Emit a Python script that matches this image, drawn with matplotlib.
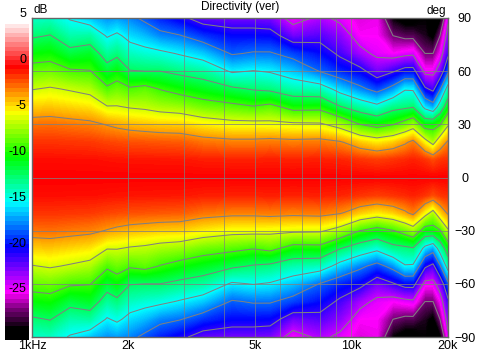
import numpy as np
import matplotlib
matplotlib.use('Agg')
import matplotlib.pyplot as plt
from matplotlib.colors import LinearSegmentedColormap, Normalize

plt.rcParams['font.family'] = ['Liberation Sans', 'DejaVu Sans']

# Frecuencias (Hz)
frecuencias = [1000, 1139, 1316, 1520, 1719, 1847, 2029, 2261, 2520, 2910, 3437, 4236, 4930,
               5574, 6579, 7995, 9237, 10670, 12060, 13540, 14770, 15650, 17060, 18080, 19010, 20140]

# Nivel en dB por angulo (mitad superior, el diagrama es simetrico)
db_90 = [-14, -13.9, -15.2, -16.2, -17.2, -17, -17.5, -18.5, -19.5, -20.5, -22, -22.3, -22.3,
         -22.5, -25, -23.5, -24.5, -25.5, -25.2, -29, -30, -30, -29, -30, -29.5, -24.5]
db_80 = [-12.3, -11.9, -13.4, -13.2, -15.2, -14.6, -15.7, -16.4, -17.4, -17.9, -19.1, -20, -20,
         -20.1, -22.3, -21.7, -22.8, -25, -25, -27, -27.5, -27.5, -28.5, -29.5, -27, -23]
db_70 = [-10.1, -9.9, -11.3, -10.8, -13.1, -12.5, -13.8, -14.2, -14.5, -15.2, -16.1, -18.2, -17.8,
         -17.8, -18.8, -19.9, -21.4, -23.3, -24.5, -25, -24.6, -24.4, -27, -27, -25.2, -21.5]
db_60 = [-8.1, -7.9, -8.7, -8.9, -11, -10.2, -11.9, -12, -12, -12.6, -13.2, -15.3, -14.9,
         -15.2, -16.2, -18.1, -19.4, -20.3, -22.3, -21.2, -20.1, -20.1, -24.7, -24.7, -22.8, -18.5]
db_50 = [-6.1, -5.8, -6.2, -6.7, -8.6, -8, -8.7, -8.3, -9.1, -9.9, -10.6, -11.6, -12.2,
         -12.5, -13.5, -13.8, -15.9, -17.5, -18.8, -17.2, -15.2, -15.3, -20.6, -21.6, -18.3, -13.8]
db_40 = [-4.1, -4, -4.3, -4.6, -5.9, -5.9, -6.2, -6.4, -6.8, -7.1, -7.9, -8.4, -8.9,
         -8.4, -9.9, -9.8, -11.9, -13.4, -14.4, -12.8, -12.5, -12.2, -15.7, -16.9, -13.8, -10.5]
db_30 = [-2.3, -2.2, -2.4, -2.6, -3.1, -3.4, -3.7, -3.9, -4.1, -4.2, -4.8, -5.3, -5.3,
         -5.4, -5.6, -5.7, -6.9, -9, -9.9, -9.1, -8, -7.1, -10.2, -10, -9.2, -6.3]
db_20 = [-1, -1, -1.07, -1.14, -1.37, -1.48, -1.6, -1.67, -1.75, -1.83, -2.3, -2.55, -2.55,
         -2.4, -2.55, -2.4, -2.84, -4.1, -4.8, -4.2, -3.3, -2.55, -5.1, -6.75, -4.4, -2.7]
db_10 = [-0.25, -0.25, -0.27, -0.28, -0.34, -0.37, -0.4, -0.42, -0.43, -0.45, -0.57, -0.63, -0.63,
         -0.6, -0.63, -0.6, -0.7, -1, -1.24, -1, -0.8, -0.63, -1, -1.57, -1.08, -0.89]
db_0 = [0] * 26

angulos = [90, 80, 70, 60, 50, 40, 30, 20, 10, 0]
escala_ticks = [5, 0, -5, -10, -15, -20, -25, -30]
angulo_ticks = [90, 60, 30, 0, -30, -60, -90]
frec_ticks = [1000, 2000, 5000, 10000, 20000]
frec_labels = ['1kHz', '2k', '5k', '10k', '20k']

# Paleta de la escala en dB
colores = [(0.0, '#000000'), (1 / 35, '#000000'), (3 / 35, '#700070'), (5 / 35, '#ff00ff'),
           (10 / 35, '#0000ff'), (15 / 35, '#00ffff'), (20 / 35, '#00ff00'), (25 / 35, '#ffff00'),
           (30 / 35, '#ff0000'), (1.0, '#ffffff')]
paleta = LinearSegmentedColormap.from_list('directividad', colores, N=512)
norma = Normalize(-30, 5)

mitad = np.array([db_90, db_80, db_70, db_60, db_50, db_40, db_30, db_20, db_10, db_0])
Z = np.vstack([mitad, mitad[-2::-1]])
A = np.array(angulos + [-a for a in angulos[-2::-1]])

W, H = 480, 355
fig = plt.figure(figsize=(W / 100, H / 100), dpi=100, facecolor='white')
ax = fig.add_axes([32 / W, 1 - 337 / H, 416 / W, 319 / H])

ax.contourf(frecuencias, A, Z, levels=np.arange(-30, 5.01, 0.1), cmap=paleta, norm=norma,
            extend='both', antialiased=False)
ax.contour(frecuencias, A, Z, levels=np.arange(-27, -2, 3), colors='#808080', linewidths=0.75,
           linestyles='solid')

ax.set_xscale('log')
ax.set_xlim(1000, 20140)
ax.set_ylim(-90, 90)
ax.set_xticks(frec_ticks)
ax.set_xticklabels(frec_labels)
ax.set_xticks([], minor=True)
ax.set_yticks(angulo_ticks)
ax.yaxis.tick_right()
ax.tick_params(length=0, labelsize=9, pad=2)
ax.tick_params(axis='y', pad=12)
for lbl in ax.get_yticklabels():
    lbl.set_horizontalalignment('center')
for t in [2000, 3000, 4000, 5000, 6000, 7000, 8000, 9000, 10000]:
    ax.axvline(t, color='#808080', lw=0.6, alpha=0.8)
for a in [60, 30, 0, -30, -60]:
    ax.axhline(a, color='#808080', lw=0.6, alpha=0.9)
for lado in ax.spines.values():
    lado.set_color('#666666')
    lado.set_linewidth(1.0)

ax_esc = fig.add_axes([5 / W, 1 - 340 / H, 24 / W, 321 / H])
ax_esc.imshow(np.linspace(5, -30, 70)[:, None], aspect='auto', cmap=paleta, norm=norma,
              extent=[0, 1, -30, 5], interpolation='nearest')
ax_esc.axis('off')
for v in escala_ticks:
    ax_esc.annotate(str(v), (1, v), xycoords=('axes fraction', 'data'), xytext=(-2, 3.4),
                    textcoords='offset points', ha='right', va='center', fontsize=9, color='black',
                    annotation_clip=False)

fig.text(240 / W, 1 - 7 / H, 'Directivity (ver)', ha='center', va='center', fontsize=8.5)
fig.text(34 / W, 1 - 10 / H, 'dB', ha='left', va='center', fontsize=8.5)
fig.text(446 / W, 1 - 11 / H, 'deg', ha='right', va='center', fontsize=8.5)

fig.savefig('out.png', dpi=100)
